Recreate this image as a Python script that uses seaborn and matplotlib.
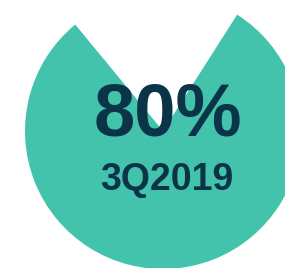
import matplotlib
matplotlib.use("Agg")
import matplotlib.pyplot as plt
import seaborn as sns

sns.set_theme(style="white")
plt.rcParams['font.family'] = ['Liberation Sans', 'DejaVu Sans']

shares = [80, 20]
labels = ["3Q2019", "rest"]
value_text = "80%"
period_text = "3Q2019"
teal = "#43C3AB"
navy = "#0C3449"

fig = plt.figure(figsize=(2.85, 2.68), dpi=100)
ax = fig.add_axes([0, 0, 1, 1])

wedges, _ = ax.pie(shares, colors=[teal, "none"], startangle=129.5,
                   counterclock=True, radius=138, center=(163, 137),
                   frame=True, wedgeprops=dict(linewidth=0))
ax.set_xlim(0, 285)
ax.set_ylim(0, 268)
ax.set_aspect("equal")
ax.axis("off")

ax.text(167.5, 152, value_text, ha="center", va="center", fontsize=53.5,
        fontweight="bold", color=navy)
ax.text(167, 88, period_text, ha="center", va="center", fontsize=27,
        fontweight="bold", color=navy)

fig.savefig("out.png", dpi=100)
